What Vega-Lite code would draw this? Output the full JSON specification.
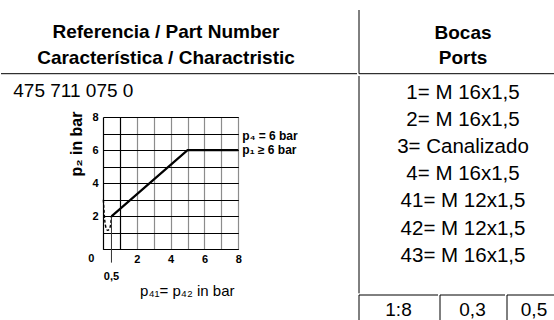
{
  "$schema": "https://vega.github.io/schema/vega-lite/v6.json",
  "padding": {"left": 0, "top": 9, "right": 0, "bottom": 0},
  "background": "white",
  "config": {
    "view": {"stroke": null},
    "font": "Liberation Sans",
    "text": {"font": "Liberation Sans", "color": "black"},
    "rule": {"color": "black", "strokeWidth": 1}
  },
  "spacing": 0,
  "align": "none",
  "hconcat": [
    {
      "spacing": 7,
      "align": "none",
      "vconcat": [
        {
          "width": 356,
          "height": 63.7,
          "layer": [
            {
              "data": {"values": [{"line": 1, "text": "Referencia / Part Number"}, {"line": 2, "text": "Característica / Charactristic"}]},
              "mark": {"type": "text", "fontSize": 19, "fontWeight": "bold", "dx": -13},
              "encoding": {
                "y": {"field": "line", "type": "ordinal", "axis": null, "scale": {"type": "point", "padding": 0.725, "align": 0.58}},
                "text": {"field": "text"}
              }
            },
            {
              "data": {"values": [{"edge": "bottom"}]},
              "mark": {"type": "rule"},
              "encoding": {"y": {"value": "height"}}
            }
          ]
        },
        {
          "spacing": 0,
          "align": "none",
          "hconcat": [
            {
              "width": 12,
              "height": 1,
              "data": {"values": [{"text": ""}]},
              "mark": {"type": "text"},
              "encoding": {"text": {"field": "text"}}
            },
            {
              "width": 135.3,
              "height": 132.4,
              "title": {"text": "475 711 075 0", "anchor": "start", "frame": "group", "dx": -89.7, "fontSize": 19, "fontWeight": "normal", "font": "Liberation Sans", "color": "black", "offset": 10},
              "encoding": {
                "x": {
                  "field": "x", "type": "quantitative",
                  "scale": {"domain": [0, 8], "nice": false, "zero": false},
                  "axis": {
                    "values": [0, 1, 2, 3, 4, 5, 6, 7, 8],
                    "grid": true,
                    "gridColor": {"condition": {"test": "datum.value <= 1", "value": "#000000"}, "value": "#8c8c8c"},
                    "gridOpacity": 1,
                    "gridWidth": 1.2,
                    "domain": false,
                    "ticks": false,
                    "labelExpr": "datum.value > 0 && datum.value % 2 == 0 ? datum.label : ''",
                    "labelFont": "Liberation Sans",
                    "labelFontWeight": "bold",
                    "labelFontSize": 11,
                    "labelColor": "black",
                    "labelPadding": 4,
                    "labelFlush": false,
                    "labelOverlap": false,
                    "title": "p₄₁= p₄₂ in bar",
                    "titleFont": "Liberation Sans",
                    "titleFontSize": 15,
                    "titleFontWeight": "normal",
                    "titleColor": "black",
                    "titleAnchor": "end",
                    "titleX": 131,
                    "titlePadding": 19
                  }
                },
                "y": {
                  "field": "y", "type": "quantitative",
                  "scale": {"domain": [0, 8], "nice": false, "zero": false},
                  "axis": {
                    "values": [0, 1, 2, 3, 4, 5, 6, 7, 8],
                    "grid": true,
                    "gridColor": "#000000",
                    "gridOpacity": 1,
                    "gridWidth": 1.2,
                    "domain": false,
                    "ticks": false,
                    "labelExpr": "datum.value > 0 && datum.value % 2 == 0 ? datum.label : ''",
                    "labelFont": "Liberation Sans",
                    "labelFontWeight": "bold",
                    "labelFontSize": 11,
                    "labelColor": "black",
                    "labelPadding": 5,
                    "labelFlush": false,
                    "labelOverlap": false,
                    "title": "p₂ in bar",
                    "titleFont": "Liberation Sans",
                    "titleFontSize": 16,
                    "titleFontWeight": "bold",
                    "titleColor": "black",
                    "titleAnchor": "end",
                    "titleY": -6,
                    "titlePadding": 7
                  }
                }
              },
              "layer": [
                {
                  "data": {"values": [
                    {"x": 0.02, "y": 3.0}, {"x": 0.05, "y": 2.5}, {"x": 0.1, "y": 1.8}, {"x": 0.18, "y": 1.3},
                    {"x": 0.28, "y": 1.15}, {"x": 0.38, "y": 1.25}, {"x": 0.45, "y": 1.5}, {"x": 0.5, "y": 2.0}
                  ]},
                  "mark": {"type": "line", "color": "black", "strokeWidth": 1.4, "strokeDash": [3, 2], "interpolate": "monotone"}
                },
                {
                  "data": {"values": [{"x": 0.5, "y": -0.8, "y2": 2}]},
                  "mark": {"type": "rule", "color": "#333333", "strokeWidth": 1},
                  "encoding": {"y2": {"field": "y2"}}
                },
                {
                  "data": {"values": [{"x": 0.5, "y": 2}, {"x": 5, "y": 6}, {"x": 8, "y": 6}]},
                  "mark": {"type": "line", "color": "black", "strokeWidth": 2.2}
                },
                {
                  "data": {"values": [{"x": 8, "y": 6.85, "label": "p₄ = 6 bar"}, {"x": 8, "y": 6.0, "label": "p₁ ≥ 6 bar"}]},
                  "mark": {"type": "text", "align": "left", "dx": 4, "fontSize": 12, "fontWeight": "bold"},
                  "encoding": {"text": {"field": "label"}}
                },
                {
                  "data": {"values": [{"x": 0, "y": 0, "label": "0"}]},
                  "mark": {"type": "text", "dx": -11.7, "dy": 9.3, "fontSize": 11, "fontWeight": "bold"},
                  "encoding": {"text": {"field": "label"}}
                },
                {
                  "data": {"values": [{"x": 0.5, "y": 0, "label": "0,5"}]},
                  "mark": {"type": "text", "dy": 28, "fontSize": 11, "fontWeight": "bold"},
                  "encoding": {"text": {"field": "label"}}
                }
              ]
            }
          ]
        }
      ]
    },
    {
      "spacing": 0,
      "align": "none",
      "vconcat": [
        {
          "width": 198,
          "height": 63.7,
          "layer": [
            {
              "data": {"values": [{"line": 1, "text": "Bocas"}, {"line": 2, "text": "Ports"}]},
              "mark": {"type": "text", "fontSize": 19, "fontWeight": "bold", "dx": 5},
              "encoding": {
                "y": {"field": "line", "type": "ordinal", "axis": null, "scale": {"type": "point", "padding": 0.774, "align": 0.587}},
                "text": {"field": "text"}
              }
            },
            {
              "data": {"values": [{"edge": "left"}]},
              "mark": {"type": "rule"},
              "encoding": {"x": {"value": 0}}
            },
            {
              "data": {"values": [{"edge": "bottom"}]},
              "mark": {"type": "rule"},
              "encoding": {"y": {"value": "height"}}
            }
          ]
        },
        {
          "width": 198,
          "height": 217.3,
          "layer": [
            {
              "data": {"values": [
                {"row": 1, "text": "1= M 16x1,5"},
                {"row": 2, "text": "2= M 16x1,5"},
                {"row": 3, "text": "3= Canalizado"},
                {"row": 4, "text": "4= M 16x1,5"},
                {"row": 5, "text": "41= M 12x1,5"},
                {"row": 6, "text": "42= M 12x1,5"},
                {"row": 7, "text": "43= M 16x1,5"}
              ]},
              "mark": {"type": "text", "fontSize": 20.5, "dx": 5},
              "encoding": {
                "y": {"field": "row", "type": "ordinal", "axis": null, "scale": {"type": "point", "padding": 1.1, "align": 0.31}},
                "text": {"field": "text"}
              }
            },
            {
              "data": {"values": [{"edge": "left"}]},
              "mark": {"type": "rule"},
              "encoding": {"x": {"value": 0}}
            }
          ]
        },
        {
          "spacing": 0,
          "align": "none",
          "hconcat": [
            {
              "width": 79,
              "height": 26.7,
              "data": {"values": [{"text": "1:8"}]},
              "layer": [
                {"mark": {"type": "text", "fontSize": 19, "dy": 1.8}, "encoding": {"text": {"field": "text"}}},
                {"mark": {"type": "rule"}, "encoding": {"x": {"value": 0}}},
                {"mark": {"type": "rule"}, "encoding": {"y": {"value": 0}}}
              ]
            },
            {
              "width": 65,
              "height": 26.7,
              "data": {"values": [{"text": "0,3"}]},
              "layer": [
                {"mark": {"type": "text", "fontSize": 19, "dy": 1.8}, "encoding": {"text": {"field": "text"}}},
                {"mark": {"type": "rule"}, "encoding": {"x": {"value": 0}}},
                {"mark": {"type": "rule"}, "encoding": {"y": {"value": 0}}}
              ]
            },
            {
              "width": 54,
              "height": 26.7,
              "data": {"values": [{"text": "0,5"}]},
              "layer": [
                {"mark": {"type": "text", "fontSize": 19, "dy": 1.8}, "encoding": {"text": {"field": "text"}}},
                {"mark": {"type": "rule"}, "encoding": {"x": {"value": 0}}},
                {"mark": {"type": "rule"}, "encoding": {"y": {"value": 0}}}
              ]
            }
          ]
        }
      ]
    }
  ]
}
